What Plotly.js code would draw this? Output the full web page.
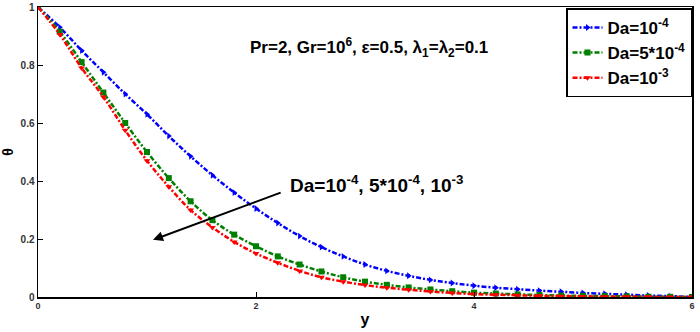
<!DOCTYPE html>
<html>
<head>
<meta charset="utf-8">
<script src="https://cdn.plot.ly/plotly-3.0.1.min.js"></script>
<style>
  body { margin: 0; background: #fff; }
  #chart { width: 700px; height: 332px; }
</style>
</head>
<body>
<div id="chart"></div>
<script>
// y positions (read every 0.2)
var yPos = [0, 0.2, 0.4, 0.6, 0.8, 1.0, 1.2, 1.4, 1.6, 1.8, 2.0, 2.2, 2.4, 2.6, 2.8, 3.0,
            3.2, 3.4, 3.6, 3.8, 4.0, 4.2, 4.4, 4.6, 4.8, 5.0, 5.2, 5.4, 5.6, 5.8, 6.0];

// theta for each Da
var thetaDa1 = [1.00, 0.93, 0.85, 0.775, 0.70, 0.63, 0.555, 0.485, 0.42, 0.36, 0.305, 0.255, 0.21, 0.172, 0.14, 0.112,
                0.09, 0.073, 0.059, 0.048, 0.039, 0.032, 0.027, 0.022, 0.018, 0.014, 0.011, 0.008, 0.005, 0.003, 0.0];
var thetaDa5 = [1.00, 0.915, 0.81, 0.705, 0.60, 0.50, 0.41, 0.33, 0.265, 0.215, 0.175, 0.14, 0.112, 0.088, 0.068, 0.053,
                0.042, 0.033, 0.026, 0.02, 0.015, 0.012, 0.009, 0.007, 0.005, 0.004, 0.003, 0.002, 0.001, 0.0005, 0.0];
var thetaDa10 = [1.00, 0.905, 0.79, 0.69, 0.575, 0.47, 0.38, 0.30, 0.24, 0.19, 0.15, 0.118, 0.09, 0.068, 0.053, 0.041,
                 0.032, 0.025, 0.019, 0.014, 0.010, 0.008, 0.006, 0.004, 0.003, 0.002, 0.001, 0.0008, 0.0005, 0.0002, 0.0];

var names = ['Da=10<sup>-4</sup>', 'Da=5*10<sup>-4</sup>', 'Da=10<sup>-3</sup>'];
var colors = ['#0000ff', '#008000', '#ff0000'];
var symbols = ['triangle-right', 'square', 'triangle-down'];
var series = [thetaDa1, thetaDa5, thetaDa10];

var font = 'Liberation Sans, Arial, sans-serif';

var data = series.map(function (s, i) {
  return {
    x: yPos,
    y: s,
    name: names[i],
    type: 'scatter',
    mode: 'lines+markers',
    line: { color: colors[i], width: 2.5, dash: '5px,2px,2px,2px', shape: 'spline' },
    marker: { color: colors[i], symbol: symbols[i], size: 6 }
  };
});

var layout = {
  width: 700,
  height: 332,
  margin: { l: 38, r: 8, t: 7, b: 35 },
  paper_bgcolor: '#fff',
  plot_bgcolor: '#fff',
  font: { family: font, color: '#000' },
  showlegend: true,
  legend: {
    x: 1, y: 0.995, xanchor: 'right', yanchor: 'top',
    bgcolor: '#fff', bordercolor: '#000', borderwidth: 1.5,
    itemwidth: 30,
    font: { family: font, size: 17, color: '#000', weight: 'bold' },
    tracegroupgap: 0
  },
  xaxis: {
    range: [0, 6], tickvals: [0, 2, 4, 6],
    showgrid: false, zeroline: false,
    showline: true, linecolor: '#000', linewidth: 1.5, mirror: true,
    ticks: 'inside', ticklen: 5, tickcolor: '#000',
    tickfont: { family: font, size: 9, color: '#333', weight: 'bold' },
    title: { text: 'y', font: { family: font, size: 16, color: '#000', weight: 'bold' }, standoff: 3 }
  },
  yaxis: {
    range: [0, 1], tickvals: [0, 0.2, 0.4, 0.6, 0.8, 1], ticktext: ['0', '0.2', '0.4', '0.6', '0.8', '1'],
    showgrid: false, zeroline: false,
    showline: true, linecolor: '#000', linewidth: 1.5, mirror: true,
    ticks: 'inside', ticklen: 5, tickcolor: '#000',
    tickfont: { family: font, size: 10, color: '#333', weight: 'bold' },
    title: { text: 'θ', font: { family: font, size: 14, color: '#000', weight: 'bold' }, standoff: 6 }
  },
  annotations: [
    {
      x: 1.93, y: 0.862, xref: 'x', yref: 'y', xanchor: 'left', yanchor: 'middle',
      text: 'Pr=2, Gr=10<sup>6</sup>, ε=0.5, λ<sub>1</sub>=λ<sub>2</sub>=0.1',
      showarrow: false,
      font: { family: font, size: 17, color: '#000', weight: 'bold' }
    },
    {
      x: 2.29, y: 0.39, xref: 'x', yref: 'y', xanchor: 'left', yanchor: 'middle',
      text: 'Da=10<sup>-4</sup>, 5*10<sup>-4</sup>, 10<sup>-3</sup>',
      showarrow: false,
      font: { family: font, size: 19, color: '#000', weight: 'bold' }
    },
    {
      x: 1.055, y: 0.197, xref: 'x', yref: 'y',
      ax: 2.24, ay: 0.362, axref: 'x', ayref: 'y',
      text: '', showarrow: true,
      arrowhead: 2, arrowsize: 1, arrowwidth: 2, arrowcolor: '#000'
    }
  ]
};

Plotly.newPlot('chart', data, layout, { displayModeBar: false, staticPlot: true });
</script>
</body>
</html>
